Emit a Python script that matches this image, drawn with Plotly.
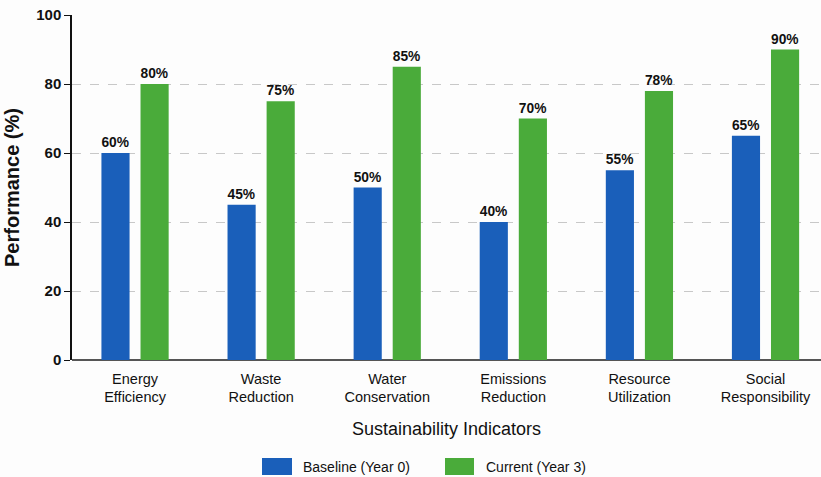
import plotly.graph_objects as go

categories = ["Energy<br>Efficiency", "Waste<br>Reduction", "Water<br>Conservation",
              "Emissions<br>Reduction", "Resource<br>Utilization", "Social<br>Responsibility"]
baseline = [60, 45, 50, 40, 55, 65]
current = [80, 75, 85, 70, 78, 90]
series_names = ["Baseline (Year 0)", "Current (Year 3)"]
y_ticks = [0, 20, 40, 60, 80, 100]

BLUE = "#1a5fba"
GREEN = "#4aab3a"
FONT = "Liberation Sans, Arial, sans-serif"

W, H = 821, 477
L, R, T, B = 72, 0, 15, 117
PW, PH = W - L - R, H - T - B


def px_x(p):
    return (p - L) / PW


def px_y(p):
    return (H - B - p) / PH


x = list(range(len(categories)))

fig = go.Figure()
for vals, name, color in [(baseline, series_names[0], BLUE), (current, series_names[1], GREEN)]:
    fig.add_trace(go.Bar(
        x=x, y=vals, name=name, marker=dict(color=color, line=dict(width=0)),
        text=[f"{v}%" for v in vals], textposition="outside",
        textfont=dict(family=FONT, size=14, color="#111111", weight="bold"),
        cliponaxis=False, showlegend=False,
    ))

# Legend: wide colour swatches with labels beneath the axis title
legend_items = [(series_names[0], BLUE, 262, 292, 301), (series_names[1], GREEN, 445, 474, 484)]
for name, color, x0, x1, tx in legend_items:
    fig.add_shape(type="rect", xref="paper", yref="paper",
                  x0=px_x(x0), x1=px_x(x1), y0=px_y(475), y1=px_y(458),
                  fillcolor=color, line=dict(width=0))
    fig.add_annotation(text=name, xref="paper", yref="paper",
                       x=px_x(tx), y=px_y(466.5), xanchor="left", yanchor="middle",
                       showarrow=False, font=dict(family=FONT, size=14, color="#111111"))

fig.update_layout(
    width=W, height=H,
    margin=dict(l=L, r=R, t=T, b=B, autoexpand=False),
    paper_bgcolor="#fdfdfd", plot_bgcolor="#fdfdfd",
    barmode="group", bargap=0.38, bargroupgap=0.28,
    font=dict(family=FONT, color="#111111"),
    showlegend=False,
    xaxis=dict(
        tickmode="array", tickvals=x, ticktext=categories,
        range=[-0.5, 5.44], showgrid=False, zeroline=False,
        showline=False, ticks="", automargin=False, ticklabelstandoff=8,
        tickfont=dict(family=FONT, size=14.5, color="#111111"),
        title=dict(text="Sustainability Indicators", standoff=18,
                   font=dict(family=FONT, size=18, color="#111111")),
    ),
    yaxis=dict(
        range=[0, 100], tickvals=y_ticks, showgrid=True, automargin=False,
        gridcolor="#c8c8c8", griddash="dash", gridwidth=1,
        zeroline=True, zerolinecolor="#555555", zerolinewidth=1.5,
        showline=True, linecolor="#111111", linewidth=1.5,
        ticks="outside", ticklen=6, tickcolor="#111111",
        tickfont=dict(family=FONT, size=15, color="#111111", weight="bold"),
        title=dict(text="Performance (%)", standoff=11,
                   font=dict(family=FONT, size=20, color="#111111", weight="bold")),
    ),
)

fig.write_html("out.html")
